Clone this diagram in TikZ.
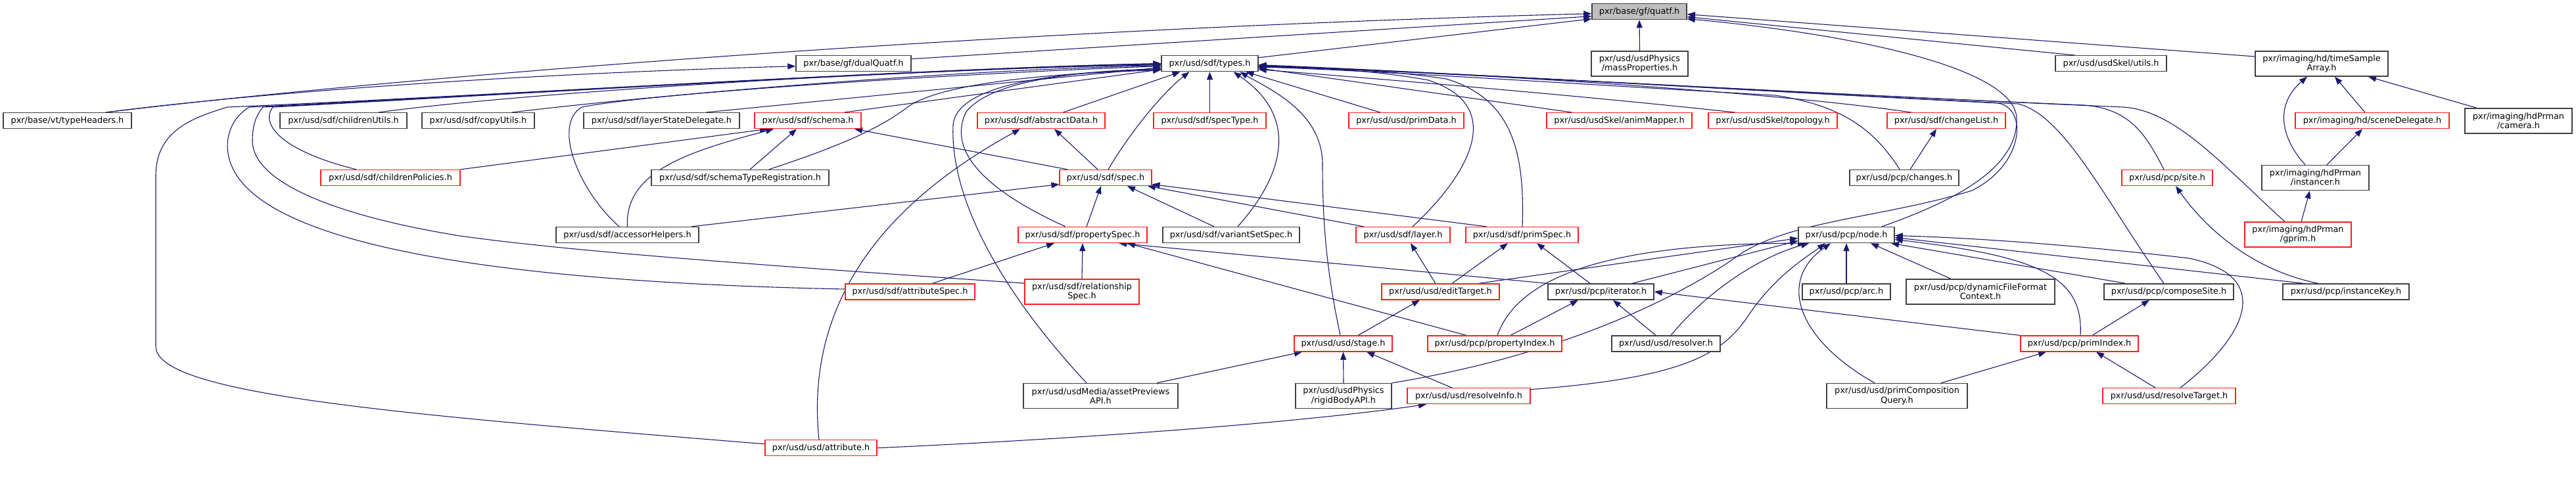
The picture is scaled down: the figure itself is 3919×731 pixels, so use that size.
\documentclass[tikz,border=0pt]{standalone}
\usepackage{fontspec}
\setmainfont{DejaVu Sans}
\usetikzlibrary{arrows.meta,calc}
\definecolor{midblue}{RGB}{25,25,112}
\definecolor{gray25}{RGB}{64,64,64}
\definecolor{gray75}{RGB}{191,191,191}
\definecolor{dred}{RGB}{255,30,30}
\pgfdeclarelayer{bg}
\pgfsetlayers{bg,main}
\newcommand\fsz{\fontsize{12.85}{14.3}\selectfont}
\tikzset{
  box/.style={draw=gray25, line width=1.4pt, fill=white, minimum height=24pt, inner sep=0pt, font=\fsz, align=center},
  redbox/.style={box, draw=dred, line width=1.2pt},
  tall/.style={minimum height=38pt},
  root/.style={box, fill=gray75},
  dep/.style={draw=midblue, line width=1.1pt, -{Triangle[length=12pt,width=9pt]}}
}
\begin{document}
\begin{tikzpicture}[x=1pt,y=-1pt]
\useasboundingbox (0,0) rectangle (3919,731);
% row 0
\node[root, minimum width=144pt] (quatf) at (2494,17.7) {pxr/base/gf/quatf.h};
% row 1
\node[box, minimum width=175pt] (dualQuatf) at (1298.5,96.7) {pxr/base/gf/dualQuatf.h};
\node[box, minimum width=147pt] (types) at (1840.5,96.7) {pxr/usd/sdf/types.h};
\node[box, tall, minimum width=147pt] (massProp) at (2494.5,97) {pxr/usd/usdPhysics\\/massProperties.h};
\node[box, minimum width=169pt] (skelUtils) at (3211.5,96.7) {pxr/usd/usdSkel/utils.h};
\node[box, tall, minimum width=202pt] (timeSample) at (3532,97) {pxr/imaging/hd/timeSample\\Array.h};
% row 2
\node[box, minimum width=195pt] (typeHeaders) at (102.5,183.7) {pxr/base/vt/typeHeaders.h};
\node[box, minimum width=193pt] (childrenUtils) at (522.5,183.7) {pxr/usd/sdf/childrenUtils.h};
\node[box, minimum width=171pt] (copyUtils) at (727.5,183.7) {pxr/usd/sdf/copyUtils.h};
\node[box, minimum width=237pt] (layerState) at (1006.5,183.7) {pxr/usd/sdf/layerStateDelegate.h};
\node[redbox, minimum width=162pt] (schema) at (1229,183.7) {pxr/usd/sdf/schema.h};
\node[redbox, minimum width=194pt] (abstractData) at (1584,183.7) {pxr/usd/sdf/abstractData.h};
\node[redbox, minimum width=171pt] (specType) at (1840.5,183.7) {pxr/usd/sdf/specType.h};
\node[redbox, minimum width=175pt] (primData) at (2139.5,183.7) {pxr/usd/usd/primData.h};
\node[redbox, minimum width=221pt] (animMapper) at (2463.5,183.7) {pxr/usd/usdSkel/animMapper.h};
\node[redbox, minimum width=196pt] (topology) at (2697,183.7) {pxr/usd/usdSkel/topology.h};
\node[redbox, minimum width=180pt] (changeList) at (2961,183.7) {pxr/usd/sdf/changeList.h};
\node[redbox, minimum width=234pt] (sceneDelegate) at (3609,183.7) {pxr/imaging/hd/sceneDelegate.h};
\node[box, tall, minimum width=163pt] (camera) at (3831.5,184) {pxr/imaging/hdPrman\\/camera.h};
% row 3
\node[redbox, minimum width=212pt] (childrenPolicies) at (594,270.5) {pxr/usd/sdf/childrenPolicies.h};
\node[box, minimum width=270pt] (schemaTypeReg) at (1126,270.5) {pxr/usd/sdf/schemaTypeRegistration.h};
\node[redbox, minimum width=140pt] (spec) at (1682,270.5) {pxr/usd/sdf/spec.h};
\node[box, minimum width=166pt] (changes) at (2897,270.5) {pxr/usd/pcp/changes.h};
\node[redbox, minimum width=138pt] (site) at (3297,270.5) {pxr/usd/pcp/site.h};
\node[box, tall, minimum width=163pt] (instancer) at (3522.5,270.5) {pxr/imaging/hdPrman\\/instancer.h};
% row 4
\node[box, minimum width=217pt] (accessorHelpers) at (954.5,357.5) {pxr/usd/sdf/accessorHelpers.h};
\node[redbox, minimum width=196pt] (propertySpec) at (1647,357.5) {pxr/usd/sdf/propertySpec.h};
\node[box, minimum width=208pt] (variantSetSpec) at (1873,357.5) {pxr/usd/sdf/variantSetSpec.h};
\node[redbox, minimum width=143pt] (layer) at (2134.5,357.5) {pxr/usd/sdf/layer.h};
\node[redbox, minimum width=171pt] (primSpec) at (2315.5,357.5) {pxr/usd/sdf/primSpec.h};
\node[box, minimum width=146pt] (pcpnode) at (2809,357.5) {pxr/usd/pcp/node.h};
\node[redbox, tall, minimum width=162pt] (gprim) at (3496,357) {pxr/imaging/hdPrman\\/gprim.h};
% row 5
\node[redbox, minimum width=197pt] (attributeSpec) at (1384.5,444) {pxr/usd/sdf/attributeSpec.h};
\node[redbox, tall, minimum width=174pt] (relSpec) at (1646,444) {pxr/usd/sdf/relationship\\Spec.h};
\node[redbox, minimum width=179pt] (editTarget) at (2191.5,444) {pxr/usd/usd/editTarget.h};
\node[box, minimum width=161pt] (iterator) at (2435.5,444) {pxr/usd/pcp/iterator.h};
\node[box, minimum width=134pt] (arc) at (2809,444) {pxr/usd/pcp/arc.h};
\node[box, tall, minimum width=226pt] (dynFF) at (3013,444) {pxr/usd/pcp/dynamicFileFormat\\Context.h};
\node[box, minimum width=197pt] (composeSite) at (3299.5,444) {pxr/usd/pcp/composeSite.h};
\node[box, minimum width=192pt] (instanceKey) at (3569,444) {pxr/usd/pcp/instanceKey.h};
% row 6
\node[redbox, minimum width=149pt] (stage) at (2043.5,523) {pxr/usd/usd/stage.h};
\node[redbox, minimum width=204pt] (propertyIndex) at (2274,523) {pxr/usd/pcp/propertyIndex.h};
\node[box, minimum width=165pt] (resolver) at (2534.5,523) {pxr/usd/usd/resolver.h};
\node[redbox, minimum width=179pt] (primIndex) at (3163.5,523) {pxr/usd/pcp/primIndex.h};
% row 7
\node[box, tall, minimum width=235pt] (assetPreviews) at (1674.5,602.5) {pxr/usd/usdMedia/assetPreviews\\API.h};
\node[box, tall, minimum width=146pt] (rigidBody) at (2044,602.5) {pxr/usd/usdPhysics\\/rigidBodyAPI.h};
\node[redbox, minimum width=187pt] (resolveInfo) at (2234.5,602.7) {pxr/usd/usd/resolveInfo.h};
\node[box, tall, minimum width=214pt] (primCompQuery) at (2886,602.5) {pxr/usd/usd/primComposition\\Query.h};
\node[redbox, minimum width=202pt] (resolveTarget) at (3300,602.7) {pxr/usd/usd/resolveTarget.h};
% row 8
\node[redbox, minimum width=170pt] (attribute) at (1249,681.7) {pxr/usd/usd/attribute.h};

\begin{pgfonlayer}{bg}
\fill[white] (0,0) rectangle (3919,731);
% into quatf
\draw[dep] ($(typeHeaders.north)+(58.5,0)$) .. controls (600,118) and (1500,45) .. ($(quatf.west)+(0,3)$);
\draw[dep] ($(typeHeaders.north)+(58.5,0)$) .. controls (400,140) and (800,112) .. ($(dualQuatf.west)+(0,4)$);
\draw[dep] ($(dualQuatf.east)+(0,-7)$) -- ($(quatf.west)+(0,7)$);
\draw[dep] ($(types.east)+(0,-9)$) -- ($(quatf.west)+(0,11)$);
\draw[dep] (massProp.north) -- (quatf.south);
\draw[dep] ($(skelUtils.north)+(-55,0)$) -- ($(quatf.east)+(0,8)$);
\draw[dep] ($(timeSample.west)+(0,-11)$) -- ($(quatf.east)+(0,4)$);
\draw[dep] ($(pcpnode.north)+(54,0)$) .. controls (2990,300) and (3070,250) .. (3068,180) .. controls (3065,100) and (2800,50) .. ($(quatf.east)+(0,11)$);
% into types, from the left
\draw[dep] ($(childrenUtils.north)+(53.5,0)$) .. controls (800,140) and (1400,104) .. ($(types.west)+(0,2)$);
\draw[dep] ($(copyUtils.north)+(51.5,0)$) .. controls (950,150) and (1400,108) .. ($(types.west)+(0,3)$);
\draw[dep] ($(layerState.north)+(67.5,0)$) -- ($(types.west)+(0,6)$);
\draw[dep] ($(schema.north)+(55,0)$) -- ($(types.west)+(0,9)$);
\draw[dep] ($(childrenPolicies.north)+(-52,0)$) .. controls (430,230) and (395,190) .. (415,163) .. controls (700,148) and (1400,105) .. ($(types.west)+(0,1)$);
\draw[dep] ($(attribute.west)+(0,-6)$) .. controls (600,630) and (237,600) .. (237,527) -- (237,268) .. controls (237,200) and (290,180) .. (346,163) .. controls (700,148) and (1400,104) .. ($(types.west)+(0,0)$);
\draw[dep] ($(attributeSpec.west)+(0,-4)$) .. controls (800,430) and (350,380) .. (346,223) .. controls (346,195) and (360,175) .. (379,163) .. controls (700,148) and (1400,104) .. ($(types.west)+(0,1)$);
\draw[dep] ($(relSpec.west)+(0,-13)$) .. controls (1100,400) and (850,380) .. (700,359) .. controls (520,330) and (384,280) .. (384,214) .. controls (384,190) and (390,175) .. (400,163) .. controls (700,148) and (1400,104) .. ($(types.west)+(0,0)$);
\draw[dep] ($(schemaTypeReg.north)+(44,0)$) .. controls (1300,215) and (1345,190) .. (1385,160) .. controls (1450,120) and (1650,110) .. ($(types.west)+(0,10)$);
\draw[dep] ($(accessorHelpers.north)+(-12.5,0)$) .. controls (880,290) and (840,190) .. (885,163) .. controls (1000,140) and (1500,110) .. ($(types.west)+(0,4)$);
\draw[dep] ($(abstractData.north)+(33,0)$) -- ($(types.south)+(-45,0)$);
\draw[dep] ($(spec.north)+(4,0)$) .. controls (1720,200) and (1770,140) .. ($(types.south)+(-31,0)$);
\draw[dep] (specType.north) -- (types.south);
\draw[dep] ($(propertySpec.north)+(-26,0)$) .. controls (1500,290) and (1440,230) .. (1470,170) .. controls (1510,120) and (1650,108) .. ($(types.west)+(0,9)$);
\draw[dep] ($(assetPreviews.north)+(-21.5,0)$) .. controls (1520,440) and (1445,300) .. (1450,190) .. controls (1455,130) and (1600,110) .. ($(types.west)+(0,8)$);
% into types, from the right
\draw[dep] ($(variantSetSpec.north)+(10,0)$) .. controls (1950,270) and (1980,180) .. ($(types.south)+(36,0)$);
\draw[dep] ($(stage.north)+(-4.5,0)$) .. controls (2020,420) and (2012,350) .. (2012,250) .. controls (2012,170) and (1930,135) .. ($(types.south)+(46,0)$);
\draw[dep] ($(primData.north)+(-39.5,0)$) -- ($(types.south)+(55,0)$);
\draw[dep] ($(animMapper.north)+(-71.5,0)$) -- ($(types.east)+(0,7)$);
\draw[dep] ($(topology.north)+(-57,0)$) .. controls (2400,145) and (2100,120) .. ($(types.east)+(0,9)$);
\draw[dep] ($(changeList.north)+(-53,0)$) .. controls (2700,140) and (2200,108) .. ($(types.east)+(0,5)$);
\draw[dep] ($(changes.north)+(-7,0)$) .. controls (2850,195) and (2800,160) .. (2700,145) .. controls (2400,128) and (2100,108) .. ($(types.east)+(0,5)$);
\draw[dep] ($(site.north)+(-5,0)$) .. controls (3265,205) and (3240,165) .. (3170,160) .. controls (2700,140) and (2200,110) .. ($(types.east)+(0,4)$);
\draw[dep] ($(composeSite.north)+(-7.5,0)$) .. controls (3200,300) and (3140,175) .. (3070,158) .. controls (2700,140) and (2200,110) .. ($(types.east)+(0,3)$);
\draw[dep] ($(gprim.north)+(-20,0)$) .. controls (3380,250) and (3310,168) .. (3230,163) .. controls (2700,140) and (2200,110) .. ($(types.east)+(0,3)$);
\draw[dep] (rigidBody.north east) .. controls (2380,540) and (2560,450) .. (2650,385) .. controls (2730,335) and (2870,330) .. (3000,290) .. controls (3080,250) and (3085,165) .. (3040,157) .. controls (2700,140) and (2200,110) .. ($(types.east)+(0,2)$);
\draw[dep] ($(layer.north)+(14.5,0)$) .. controls (2240,260) and (2290,160) .. (2173,122) .. controls (2080,105) and (1980,102) .. ($(types.east)+(0,6)$);
\draw[dep] ($(primSpec.north)+(0.5,0)$) .. controls (2320,230) and (2300,150) .. (2200,120) .. controls (2100,105) and (1980,102) .. ($(types.east)+(0,5)$);
% sdf internals
\draw[dep] (childrenPolicies.north east) -- ($(schema.south)+(-61,0)$);
\draw[dep] (accessorHelpers.north) .. controls (950,260) and (1050,230) .. ($(schema.south)+(-52,0)$);
\draw[dep] ($(schemaTypeReg.north)+(15,0)$) -- ($(schema.south)+(-17,0)$);
\draw[dep] ($(spec.north)+(-58,0)$) -- ($(schema.south)+(71,0)$);
\draw[dep] ($(spec.north)+(-12,0)$) -- ($(abstractData.south)+(20,0)$);
\draw[dep] ($(attribute.north)+(-3,0)$) .. controls (1220,420) and (1400,280) .. ($(abstractData.south)+(-32,0)$);
\draw[dep] (attribute.east) .. controls (1700,665) and (2000,640) .. ($(resolveInfo.south)+(-64.5,0)$);
\draw[dep] ($(accessorHelpers.north)+(97.5,0)$) -- ($(spec.west)+(0,10)$);
\draw[dep] ($(propertySpec.north)+(6,0)$) -- ($(spec.south)+(-7,0)$);
\draw[dep] ($(variantSetSpec.north)+(-26,0)$) -- ($(spec.south)+(33,0)$);
\draw[dep] ($(layer.north)+(-59.5,0)$) -- ($(spec.south)+(64,0)$);
\draw[dep] ($(primSpec.north)+(-53.5,0)$) -- ($(spec.east)+(0,10)$);
\draw[dep] ($(attributeSpec.north)+(33.5,0)$) -- ($(propertySpec.south)+(-43,0)$);
\draw[dep] (relSpec.north) -- (propertySpec.south);
\draw[dep] (iterator.north west) -- ($(propertySpec.south)+(55,0)$);
\draw[dep] ($(propertyIndex.north)+(-43,0)$) -- ($(propertySpec.south)+(68,0)$);
% usd / pcp
\draw[dep] ($(stage.north)+(22.5,0)$) -- ($(editTarget.south)+(-31.5,0)$);
\draw[dep] ($(editTarget.north)+(-7.5,0)$) -- ($(layer.south)+(11.5,0)$);
\draw[dep] ($(editTarget.north)+(17.5,0)$) -- ($(primSpec.south)+(-21.5,0)$);
\draw[dep] ($(iterator.north)+(-16.5,0)$) -- ($(primSpec.south)+(22.5,0)$);
\draw[dep] ($(editTarget.north)+(57.5,0)$) -- ($(pcpnode.west)+(0,5)$);
\draw[dep] ($(iterator.north)+(47.5,0)$) -- ($(pcpnode.west)+(0,9)$);
\draw[dep] ($(propertyIndex.north)+(4,0)$) .. controls (2310,420) and (2450,370) .. ($(pcpnode.south)+(-62,0)$);
\draw[dep] ($(propertyIndex.north)+(24,0)$) -- ($(iterator.south)+(-34.5,0)$);
\draw[dep] ($(resolver.north)+(-15.5,0)$) -- ($(iterator.south)+(18.5,0)$);
\draw[dep] ($(resolver.north)+(7.5,0)$) .. controls (2600,440) and (2680,390) .. ($(pcpnode.south)+(-57,0)$);
\draw[dep] ($(resolveInfo.east)+(0,-10)$) .. controls (2560,575) and (2620,540) .. (2660,480) .. controls (2700,420) and (2750,390) .. ($(pcpnode.south)+(-32,0)$);
\draw[dep] (arc.north) -- (pcpnode.south);
\draw[dep] ($(dynFF.north)+(-45,0)$) -- ($(pcpnode.south)+(37,0)$);
\draw[dep] ($(composeSite.north)+(-65.5,0)$) -- ($(pcpnode.south)+(68,0)$);
\draw[dep] ($(primIndex.north)+(1.5,0)$) .. controls (3170,420) and (3100,390) .. ($(pcpnode.east)+(0,7)$);
\draw[dep] ($(primCompQuery.north)+(-34,0)$) .. controls (2740,520) and (2700,430) .. ($(pcpnode.south)+(-24,0)$);
\draw[dep] ($(instanceKey.north)+(-64,0)$) -- ($(pcpnode.east)+(0,4)$);
\draw[dep] ($(resolveTarget.north)+(17,0)$) .. controls (3420,510) and (3460,420) .. (3330,393) .. controls (3150,372) and (3000,362) .. ($(pcpnode.east)+(0,1)$);
\draw[dep] ($(primIndex.north)+(19.5,0)$) -- ($(composeSite.south)+(-29.5,0)$);
\draw[dep] (primIndex.north west) -- (iterator.east);
\draw[dep] ($(primCompQuery.north)+(67,0)$) -- ($(primIndex.south)+(-50.5,0)$);
\draw[dep] ($(resolveTarget.north)+(-21,0)$) -- ($(primIndex.south)+(25.5,0)$);
\draw[dep] ($(resolveInfo.north)+(-25.5,0)$) -- ($(stage.south)+(35.5,0)$);
\draw[dep] (rigidBody.north) -- (stage.south);
\draw[dep] ($(assetPreviews.north)+(85.5,0)$) -- ($(stage.south)+(-62.5,0)$);
\draw[dep] ($(instanceKey.north)+(-42,0)$) .. controls (3420,410) and (3350,340) .. ($(site.south)+(13,0)$);
\draw[dep] ($(changes.north)+(9,0)$) -- ($(changeList.south)+(-15,0)$);
% imaging
\draw[dep] ($(instancer.north)+(-15.5,0)$) .. controls (3470,210) and (3460,160) .. ($(timeSample.south)+(-22,0)$);
\draw[dep] ($(sceneDelegate.north)+(-11,0)$) -- ($(timeSample.south)+(20,0)$);
\draw[dep] ($(camera.north)+(-63.5,0)$) -- ($(timeSample.south)+(71,0)$);
\draw[dep] ($(instancer.north)+(17.5,0)$) -- ($(sceneDelegate.south)+(-15,0)$);
\draw[dep] ($(gprim.north)+(5,0)$) -- ($(instancer.south)+(-8.5,0)$);
\end{pgfonlayer}
\end{tikzpicture}
\end{document}
